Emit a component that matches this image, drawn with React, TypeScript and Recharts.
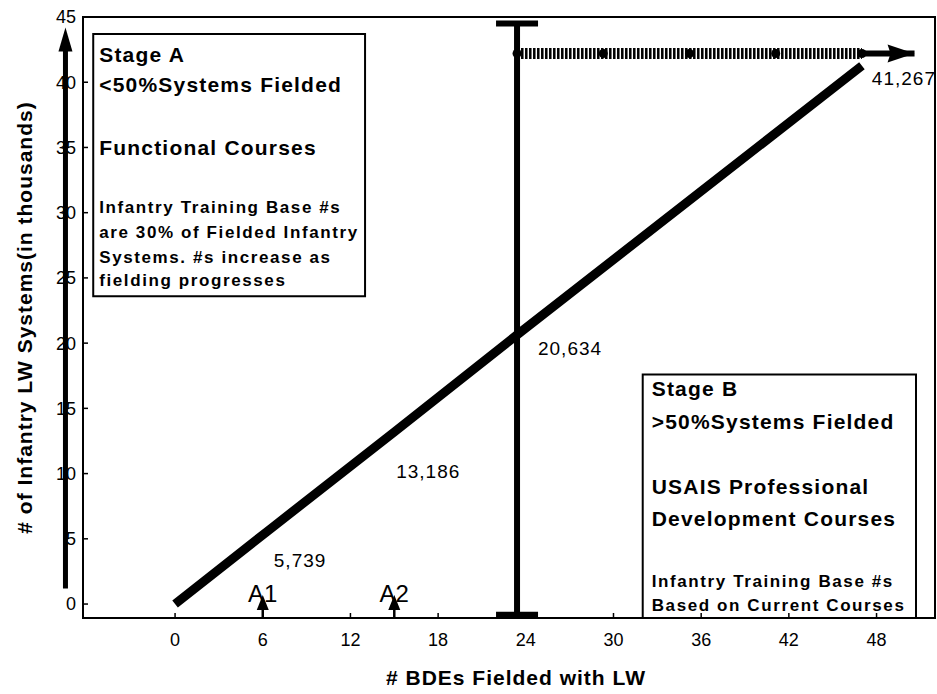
import React from "react";
import {
  ComposedChart,
  Line,
  XAxis,
  YAxis,
  ReferenceArea,
  ReferenceLine,
  LabelList,
} from "recharts";

const FONT = "'Liberation Sans', Arial, Helvetica, sans-serif";

// systems fielded vs BDEs
const bdesFielded = [0, 6.5, 15, 23.4, 47];
const lwSystems = [0, 5.739, 13.186, 20.634, 41.267];
const lwSystemLabels = ["", "5,739", "13,186", "20,634", "41,267"];

// dotted plateau after the halfway point
const plateauBdes = [23.4, 29.3, 35.2, 41.1, 47];
const plateauSystems = 42.2;
const plateauArrowEnd = 50.6;

// halfway marker
const halfwayBdes = 23.4;
const halfwayLow = -0.85;
const halfwayHigh = 44.5;

const milestones = ["A1", "A2"];
const milestoneBdes = [6, 15];

const xTicks = [0, 6, 12, 18, 24, 30, 36, 42, 48];
const yTicks = [0, 5, 10, 15, 20, 25, 30, 35, 40, 45];

const stageALines = [
  "Stage A",
  "<50%Systems Fielded",
  "Functional Courses",
  "Infantry Training Base #s",
  "are 30% of Fielded Infantry",
  "Systems. #s increase as",
  "fielding progresses",
];
const stageBLines = [
  "Stage B",
  ">50%Systems Fielded",
  "USAIS Professional",
  "Development Courses",
  "Infantry Training Base #s",
  "Based on Current Courses",
];

const X_DOMAIN: [number, number] = [-6.3, 52];
const Y_DOMAIN: [number, number] = [-1.07, 45];

// layout of annotations (not data)
const stageABox = { x1: -5.6, x2: 13, y1: 23.6, y2: 43.7 };
const stageBBox = { x1: 32, x2: 50.7, y1: -1.07, y2: 17.6 };
const stageAOffsets = [28, 58, 121, 179, 204, 229, 252];
const stageBOffsets = [22, 55, 120, 152, 213, 237];
const valueLabelOffsets = [
  [0, 0],
  [30, 38],
  [34, 46],
  [53, 20],
  [42, 19],
];

const mainData = bdesFielded.map((x, i) => ({
  x,
  y: lwSystems[i],
  label: lwSystemLabels[i],
}));
const plateauData = plateauBdes.map((x) => ({ x, y: plateauSystems }));
const arrowData = [
  { x: plateauBdes[plateauBdes.length - 1], y: plateauSystems },
  { x: plateauArrowEnd, y: plateauSystems },
];

const boxText = (lines: string[], offsets: number[], bigCount: number, pad: number) =>
  (props: any) => {
    const vb = props.viewBox || {};
    return (
      <g>
        {lines.map((t, i) => (
          <text
            key={i}
            x={vb.x + pad}
            y={vb.y + offsets[i]}
            fontFamily={FONT}
            fontWeight="bold"
            fontSize={i < bigCount ? 21 : 17}
            letterSpacing={i < bigCount ? 1.2 : 1.6}
            fill="#000"
          >
            {t}
          </text>
        ))}
      </g>
    );
  };

const ValueLabel = (props: any) => {
  const { value, index } = props;
  if (!value) return null;
  const x = props.x ?? props.viewBox?.x;
  const y = props.y ?? props.viewBox?.y;
  const [dx, dy] = valueLabelOffsets[index];
  return (
    <text
      x={x + dx}
      y={y + dy}
      textAnchor="middle"
      fontFamily={FONT}
      fontSize={19}
      letterSpacing={1}
      fill="#000"
    >
      {value}
    </text>
  );
};

const PlateauDot = (props: any) => {
  const { cx, cy, index } = props;
  return <circle key={index} cx={cx} cy={cy} r={4.5} fill="#000" />;
};

const ArrowHead = (props: any) => {
  const { cx, cy, index } = props;
  if (index !== 1) return <g key={index} />;
  return (
    <polygon
      key={index}
      points={`${cx},${cy} ${cx - 27},${cy - 9} ${cx - 24},${cy} ${cx - 27},${cy + 9}`}
      fill="#000"
    />
  );
};

const TBar = (props: any) => {
  const { x1, y1, x2, y2 } = props;
  return (
    <g>
      <line x1={x1} y1={y1} x2={x2} y2={y2} stroke="#000" strokeWidth={6} />
      <line x1={x1 - 21} y1={y1} x2={x1 + 21} y2={y1} stroke="#000" strokeWidth={7} />
      <line x1={x2 - 21} y1={y2} x2={x2 + 21} y2={y2} stroke="#000" strokeWidth={6} />
    </g>
  );
};

const AxisArrow = (props: any) => {
  const { x1, y1, x2, y2 } = props;
  return (
    <g>
      <line x1={x1} y1={y1} x2={x2} y2={y2 + 18} stroke="#000" strokeWidth={5} />
      <polygon points={`${x2},${y2} ${x2 - 7},${y2 + 24} ${x2 + 7},${y2 + 24}`} fill="#000" />
    </g>
  );
};

const milestoneShape = (name: string) => (props: any) => {
  const { x1, y1, x2, y2 } = props;
  return (
    <g>
      <text
        x={x1}
        y={y1 - 16}
        textAnchor="middle"
        fontFamily={FONT}
        fontSize={24}
        fill="#000"
      >
        {name}
      </text>
      <line x1={x1} y1={y1} x2={x2} y2={y2 + 8} stroke="#000" strokeWidth={2.5} />
      <polygon points={`${x2},${y2} ${x2 - 6},${y2 + 15} ${x2 + 6},${y2 + 15}`} fill="#000" />
    </g>
  );
};

const XLabel = (props: any) => {
  const vb = props.viewBox || {};
  return (
    <text
      x={vb.x + vb.width / 2 + 7}
      y={vb.y + 67}
      textAnchor="middle"
      fontFamily={FONT}
      fontWeight="bold"
      fontSize={21}
      letterSpacing={1}
      fill="#000"
    >
      # BDEs Fielded with LW
    </text>
  );
};

const YLabel = (props: any) => {
  const vb = props.viewBox || {};
  const cx = vb.x + 32;
  const cy = vb.y + vb.height / 2;
  return (
    <text
      transform={`translate(${cx},${cy}) rotate(-90)`}
      textAnchor="middle"
      fontFamily={FONT}
      fontWeight="bold"
      fontSize={21}
      letterSpacing={1}
      fill="#000"
    >
      # of Infantry LW Systems(in thousands)
    </text>
  );
};

const EmptyTick = () => <g />;

export default function App() {
  const tickStyle = { fill: "#000", fontSize: 18, fontFamily: FONT };
  return (
    <div style={{ position: "absolute", left: 0, top: 0, width: 937, height: 694, background: "#fff" }}>
      <ComposedChart
        width={937}
        height={694}
        margin={{ top: 17, right: 2, left: 0, bottom: 36 }}
      >
        <XAxis
          dataKey="x"
          type="number"
          domain={X_DOMAIN}
          ticks={xTicks}
          interval={0}
          allowDataOverflow
          height={40}
          tickSize={-5}
          tickMargin={20}
          stroke="#000"
          axisLine={{ stroke: "#000", strokeWidth: 2 }}
          tickLine={{ stroke: "#000", strokeWidth: 1.5 }}
          tick={tickStyle}
          label={XLabel}
        />
        <XAxis
          xAxisId="top"
          orientation="top"
          dataKey="x"
          type="number"
          domain={X_DOMAIN}
          ticks={xTicks}
          interval={0}
          allowDataOverflow
          height={0}
          tickSize={-5}
          axisLine={{ stroke: "#000", strokeWidth: 2 }}
          tickLine={{ stroke: "#000", strokeWidth: 1.5 }}
          tick={EmptyTick}
        />
        <YAxis
          type="number"
          domain={Y_DOMAIN}
          ticks={yTicks}
          interval={0}
          allowDataOverflow
          width={83}
          tickSize={-5}
          tickMargin={12}
          axisLine={{ stroke: "#000", strokeWidth: 2 }}
          tickLine={{ stroke: "#000", strokeWidth: 1.5 }}
          tick={tickStyle}
          label={YLabel}
        />

        <ReferenceArea
          x1={X_DOMAIN[0]}
          x2={X_DOMAIN[1]}
          y1={Y_DOMAIN[0]}
          y2={Y_DOMAIN[1]}
          fill="none"
          stroke="#000"
          strokeWidth={2}
          fillOpacity={0}
          ifOverflow="visible"
        />
        <ReferenceArea
          {...stageABox}
          fill="#fff"
          fillOpacity={1}
          stroke="#000"
          strokeWidth={2}
          ifOverflow="visible"
          label={boxText(stageALines, stageAOffsets, 3, 6)}
        />
        <ReferenceArea
          {...stageBBox}
          fill="#fff"
          fillOpacity={1}
          stroke="#000"
          strokeWidth={2}
          ifOverflow="visible"
          label={boxText(stageBLines, stageBOffsets, 4, 9)}
        />

        <ReferenceLine
          segment={[
            { x: -7.5, y: 1.2 },
            { x: -7.5, y: 44.2 },
          ]}
          ifOverflow="visible"
          shape={AxisArrow}
        />
        <ReferenceLine
          segment={[
            { x: halfwayBdes, y: halfwayLow },
            { x: halfwayBdes, y: halfwayHigh },
          ]}
          ifOverflow="visible"
          shape={TBar}
        />
        {milestones.map((m, i) => (
          <ReferenceLine
            key={m}
            segment={[
              { x: milestoneBdes[i], y: Y_DOMAIN[0] },
              { x: milestoneBdes[i], y: 0.7 },
            ]}
            ifOverflow="visible"
            shape={milestoneShape(m)}
          />
        ))}

        <Line
          data={plateauData}
          dataKey="y"
          stroke="#000"
          strokeWidth={11}
          strokeDasharray="2.5 1.5"
          dot={PlateauDot}
          isAnimationActive={false}
        />
        <Line
          data={arrowData}
          dataKey="y"
          stroke="#000"
          strokeWidth={6}
          dot={ArrowHead}
          isAnimationActive={false}
        />
        <Line
          data={mainData}
          dataKey="y"
          stroke="#000"
          strokeWidth={9}
          dot={false}
          isAnimationActive={false}
        >
          <LabelList dataKey="label" content={ValueLabel} />
        </Line>
      </ComposedChart>
    </div>
  );
}
